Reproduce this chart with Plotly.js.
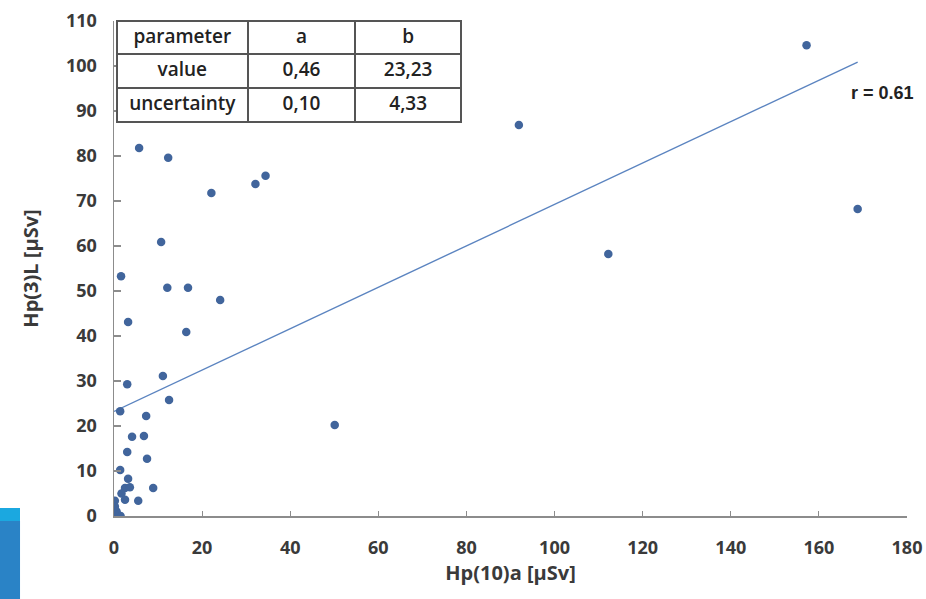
<!DOCTYPE html>
<html>
<head>
<meta charset="utf-8">
<script src="https://cdn.plot.ly/plotly-3.0.1.min.js"></script>
<style>html,body{margin:0;padding:0;background:#fff;}#chart{width:926px;height:599px;}</style>
</head>
<body>
<div id="chart"></div>
<script>
// Measured doses
const hp10a = [157.2, 168.8, 112.2, 91.9, 50.1, 34.4, 32.1, 22.1, 5.7, 12.3,
               10.7, 12.1, 16.8, 24.1, 16.4, 1.6, 3.2, 11.1, 12.5, 3.0,
               1.4, 7.3, 4.1, 6.8, 3.0, 7.5, 1.4, 3.2, 8.9, 2.5,
               3.6, 1.7, 2.5, 5.5, 0.2, 0.2, 0.6, 1.5, 0.0];
const hp3L  = [104.6, 68.2, 58.2, 86.9, 20.2, 75.6, 73.8, 71.8, 81.8, 79.6,
               60.9, 50.7, 50.7, 48.0, 40.9, 53.3, 43.1, 31.1, 25.8, 29.3,
               23.3, 22.2, 17.6, 17.8, 14.2, 12.7, 10.2, 8.3, 6.2, 6.2,
               6.4, 5.0, 3.6, 3.4, 3.4, 2.1, 1.0, 0.0, 0.6];

// Fit parameters (y = a*x + b)
const fitA = 0.46, fitB = 23.23;
const corrR = "0.61";
const tableHeader = ["parameter", "a", "b"];
const tableRowLabels = ["value", "uncertainty"];
const tableA = ["0,46", "0,10"];
const tableB = ["23,23", "4,33"];

const xTicks = [0, 20, 40, 60, 80, 100, 120, 140, 160, 180];
const yTicks = [0, 10, 20, 30, 40, 50, 60, 70, 80, 90, 100, 110];

const fitX = [0, Math.max(...hp10a)];
const fitY = fitX.map(v => fitA * v + fitB);

const FONT = "'Open Sans', Lato, sans-serif";
const TXT = "#3a3a3a";

const traces = [
  {
    type: "scatter", mode: "lines", x: fitX, y: fitY,
    line: {color: "#5b84c0", width: 1.4}, hoverinfo: "skip", showlegend: false
  },
  {
    type: "scatter", mode: "markers", x: hp10a, y: hp3L,
    marker: {color: "#41659c", size: 8.5}, showlegend: false
  },
  {
    type: "table",
    domain: {x: [0.0038, 0.4388], y: [0.785, 1.003]},
    columnwidth: [131, 108, 106],
    header: {
      values: tableHeader,
      align: "center", height: 33,
      line: {color: "#555555", width: 2},
      fill: {color: "#ffffff"},
      font: {family: FONT, size: 19, color: "#222", weight: 600}
    },
    cells: {
      values: [tableRowLabels, tableA, tableB],
      align: "center", height: 34,
      line: {color: "#555555", width: 2},
      fill: {color: "#ffffff"},
      font: {family: FONT, size: 19, color: "#222", weight: 600}
    }
  }
];

const layout = {
  width: 926, height: 599,
  margin: {l: 114, r: 19, t: 21, b: 83},
  paper_bgcolor: "#ffffff", plot_bgcolor: "#ffffff",
  font: {family: FONT, color: TXT},
  xaxis: {
    range: [0, 180], tickvals: xTicks, showgrid: false, zeroline: false,
    showline: true, linecolor: "#8c8c8c", linewidth: 1.5,
    ticks: "inside", ticklen: 5, tickcolor: "#8c8c8c", tickwidth: 1.2,
    ticklabelstandoff: 15,
    tickfont: {family: FONT, size: 18, color: TXT, weight: "bold"},
    title: {text: "Hp(10)a [µSv]", font: {family: FONT, size: 20, color: TXT, weight: "bold"}, standoff: 8},
    fixedrange: true
  },
  yaxis: {
    range: [0, 110], tickvals: yTicks, showgrid: false, zeroline: false,
    showline: true, linecolor: "#8c8c8c", linewidth: 1.5,
    ticks: "inside", ticklen: 7, tickcolor: "#8c8c8c", tickwidth: 1.2,
    ticklabelstandoff: 12,
    tickfont: {family: FONT, size: 18, color: TXT, weight: "bold"},
    title: {text: "Hp(3)L [µSv]", font: {family: FONT, size: 20, color: TXT, weight: "bold"}, standoff: 22},
    fixedrange: true
  },
  annotations: [
    {x: 174.4, y: 94.0, xref: "x", yref: "y", text: "r = " + corrR, showarrow: false,
     font: {family: "'Liberation Sans', Arial, sans-serif", size: 18, color: "#222", weight: "bold"}}
  ],
  shapes: [
    {type: "rect", xref: "paper", yref: "paper", x0: -0.1438, x1: -0.1185, y0: -0.0101, y1: 0.0162,
     fillcolor: "#1ba8e0", line: {width: 0}},
    {type: "rect", xref: "paper", yref: "paper", x0: -0.1438, x1: -0.1185, y0: -0.1677, y1: -0.0101,
     fillcolor: "#2a83c6", line: {width: 0}}
  ]
};

Plotly.newPlot("chart", traces, layout, {displayModeBar: false, staticPlot: true});
</script>
</body>
</html>
